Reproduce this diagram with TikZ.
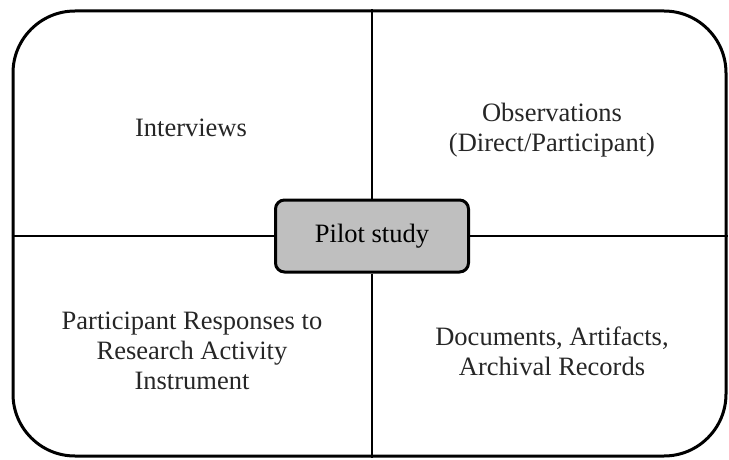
\documentclass[tikz,border=0pt]{standalone}
\usepackage{fontspec}
\setmainfont{Liberation Serif}
\usetikzlibrary{positioning}

\begin{document}
\begin{tikzpicture}[
    x=1pt, y=-1pt,
    every node/.style = {font=\fontsize{26.5}{30}\selectfont},
    frame/.style   = {rectangle, draw, line width=3pt, rounded corners=62pt,
                      minimum width=713pt, minimum height=445pt, inner sep=0pt},
    pilot/.style   = {rectangle, draw, line width=3pt, fill=black!25,
                      rounded corners=9pt, minimum width=193pt, minimum height=72pt},
    cell/.style    = {align=center, text=black!85},
    divider/.style = {line width=2.8pt}
  ]
  \useasboundingbox (0,0) rectangle (729,460);

  \node[frame] (outer) at (369.5,233.5) {};
  \node[pilot] (study) at (372,236) {Pilot study};

  % quadrants
  \node[cell] (interviews)   at (191,128) {Interviews};
  \node[cell] (observations) at (552,130) {Observations\\(Direct/Participant)};
  \node[cell] (responses)    at (192,351) {Participant Responses to\\Research Activity\\Instrument};
  \node[cell] (documents)    at (552,351) {Documents, Artifacts,\\Archival Records};

  % dividers
  \draw[divider] (outer.north -| study.north) -- (study.north);
  \draw[divider] (study.south) -- (outer.south -| study.south);
  \draw[divider] (outer.west |- study.west) -- (study.west);
  \draw[divider] (study.east) -- (outer.east |- study.east);

\end{tikzpicture}
\end{document}
